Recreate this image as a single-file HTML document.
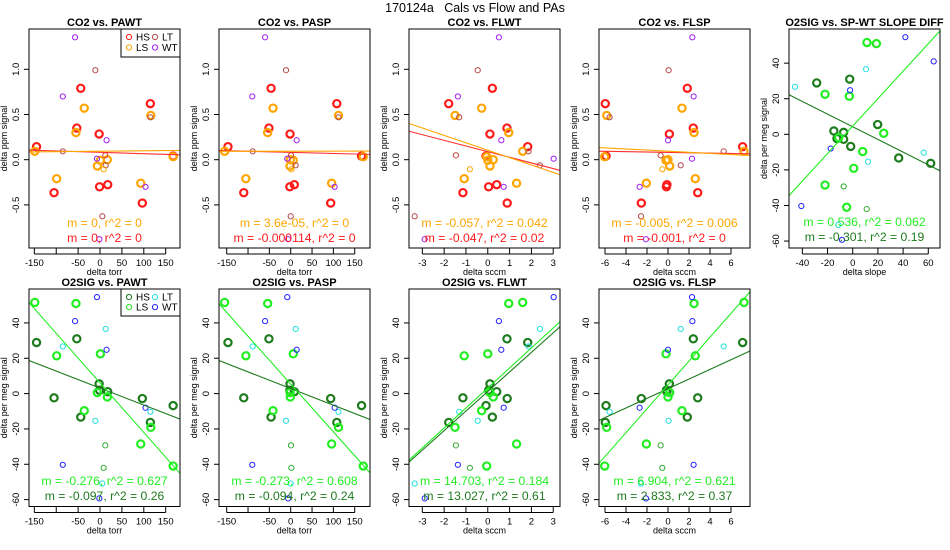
<!DOCTYPE html>
<html><head><meta charset="utf-8"><style>
html,body{margin:0;padding:0;background:#fff;}
svg{display:block;font-family:"Liberation Sans",Arial,sans-serif;}
</style></head><body>
<svg id="chart" width="950" height="550" viewBox="0 0 950 550">
<text x="475" y="12" text-anchor="middle" font-size="12.5" fill="#000" style="white-space:pre" xml:space="preserve">170124a   Cals vs Flow and PAs</text>
</svg>
<script>
const groups = ['HS','HS','HS','HS','HS','HS','HS','HS','HS','HS',
 'LS','LS','LS','LS','LS','LS','LS','LS','LS','LS',
 'LT','LT','LT3','LT','LT2','LT','LT',
 'WT','WT','WT','WT','WT','WT'];
const pawt = [-145,-105,-53,-44,-2,-1,17.6,96.7,115,167,
 -149,-99,-55,-36,-6,0.8,16.7,93,116,167,
 -85,-10.7,12,13,8.4,5.3,115,
 -57,-85,15,-7,104,-1.5];
const pasp = [-147,-110,-51,-46,-1.6,-2,8.5,93.7,108,166,
 -154.7,-105,-54,-41.5,-1.6,6,-1,96,112,170,
 -89,-11,0.7,11.7,1.5,0,112,
 -60,-90,14,-8,103,-6];
const flwt = [1.83,-1.14,0.88,0.21,0.1,0.04,0.41,0.89,-1.79,-0.08,
 1.6,-1.08,0.96,-0.28,0.1,0,0.25,1.32,-1.5,-0.05,
 1.87,-0.46,-1.46,2.39,-0.82,-3.35,-1.31,
 0.51,-1.37,0.62,3.02,0.73,-2.89];
const flsp = [7.11,2.83,2.41,1.84,0.13,-0.15,-0.1,-2.54,-5.97,-5.9,
 7.24,2.6,2.48,1.33,0.16,-0.19,0,-2.06,-5.84,-6.03,
 5.3,0.06,-0.7,1.21,-0.54,-2.57,-5.56,
 2.32,2.44,0,2.29,-2.7,-2.1];
const slopeDiff = [-28.6,-12.5,-2.4,36.5,19.8,-15,-7.2,-7.2,61.9,-1.6,
 11.3,-2.7,18.8,7.9,24.6,-22,-11.1,-22,0.8,-4.8,
 -45.8,12.1,-7.2,10.6,11.1,-11.4,56.3,
 64.3,-40.8,-2.1,41.8,-17.5,-8.5];
const co2 = [0.144,-0.365,0.35,0.79,0.284,-0.30,-0.276,-0.48,0.62,0.04,
 0.093,-0.21,0.30,0.57,-0.07,-0.007,0,-0.26,0.49,0.033,
 0.093,0.99,0.048,-0.062,-0.106,-0.626,0.469,
 1.354,0.70,0.215,0.011,-0.30,-0.88];
const o2sig = [28.9,-2.4,31,-13.3,5.5,1.9,1.1,-2.8,-16.3,-6.8,
 51.6,21.4,51,-9.7,0.6,22.5,-1.9,-28.5,-19.1,-41,
 26.7,-15.4,-29.3,36.6,-42,-50.9,-10.3,
 41,-40.3,24.8,54.6,-8,-59.3];
const co2Ticks = [-0.5,0,0.5,1];
const co2TickLabels = ['-0.5','0.0','0.5','1.0'];
const o2Ticks = [-60,-40,-20,0,20,40];
const torrTicks = [-150,-100,-50,0,50,100,150];
const torrTickLabels = ['-150','','-50','0','50','100','150'];
const sccmWtTicks = [-3,-2,-1,0,1,2,3];
const sccmSpTicks = [-6,-4,-2,0,2,4,6];
const slopeTicks = [-40,-20,0,20,40,60];
const notesTop = [['m = 0, r^2 = 0','m = 0, r^2 = 0'],['m = 3.6e-05, r^2 = 0','m = -0.000114, r^2 = 0'],
 ['m = -0.057, r^2 = 0.042','m = -0.047, r^2 = 0.02'],['m = -0.005, r^2 = 0.006','m = -0.001, r^2 = 0']];
const notesBottom = [['m = -0.276, r^2 = 0.627','m = -0.097, r^2 = 0.26'],['m = -0.273, r^2 = 0.608','m = -0.094, r^2 = 0.24'],
 ['m = 14.703, r^2 = 0.184','m = 13.027, r^2 = 0.61'],['m = 6.904, r^2 = 0.621','m = 2.833, r^2 = 0.37']];
const noteSlope = ['m = 0.536, r^2 = 0.062','m = -0.301, r^2 = 0.19'];

const NS='http://www.w3.org/2000/svg';
const svg=document.getElementById('chart');
const topColors={HS:'#ff1a1a',LS:'#ffa500',LT:'#b5484a',LT2:'#ffa500',LT3:'#c8403a',WT:'#a020f0'};
const botColors={HS:'#1e7b1e',LS:'#22ee22',LT:'#22e0e0',LT2:'#33aa33',LT3:'#33aa33',WT:'#2222ff'};
const thick={HS:true,LS:true};
let clipId=0;
function mk(tag,attrs,parent){const e=document.createElementNS(NS,tag);for(const k in attrs)e.setAttribute(k,attrs[k]);(parent||svg).appendChild(e);return e;}
function fit(xs,ys,g){let n=0,sx=0,sy=0,sxx=0,sxy=0;for(let i=0;i<xs.length;i++){if(groups[i]!==g)continue;n++;sx+=xs[i];sy+=ys[i];sxx+=xs[i]*xs[i];sxy+=xs[i]*ys[i];}
 const b=(n*sxy-sx*sy)/(n*sxx-sx*sx);return {b:b,a:(sy-b*sx)/n};}

function panel(o){
 const L=o.left,R=o.left+151,T=o.top,B=o.top+o.h;
 const sx=v=>L+(v-o.xlim[0])/(o.xlim[1]-o.xlim[0])*(R-L);
 const sy=v=>B-(v-o.ylim[0])/(o.ylim[1]-o.ylim[0])*(B-T);
 const g=mk('g',{});
 
 
 const t=mk('text',{x:(L+R)/2,y:T-3,'text-anchor':'middle','font-size':'11','font-weight':'bold'},g);t.textContent=o.title;
 
 
 o.yticks.forEach((v,i)=>{const y=sy(v);
  const tk=mk('line',{x1:L-5,x2:L,y1:y,y2:y,stroke:'#000','stroke-width':1},g);
  
  
  const tl=mk('text',{x:L-10,y:y,'text-anchor':'middle','font-size':'9.5',transform:`rotate(-90 ${L-10} ${y})`},g);
  tl.textContent=o.ytickLabels?o.ytickLabels[i]:String(v);
  
  });
 mk('line',{x1:L,x2:L,y1:sy(o.yticks[0]),y2:sy(o.yticks[o.yticks.length-1]),stroke:'#000'},g);
 const yl=mk('text',{x:L-22,y:(T+B)/2,'text-anchor':'middle','font-size':'9',transform:`rotate(-90 ${L-22} ${(T+B)/2})`},g);yl.textContent=o.ylabel;
 
 
 o.xticks.forEach((v,i)=>{const x=sx(v);
  const tk=mk('line',{x1:x,x2:x,y1:B,y2:B+6,stroke:'#000'},g);
  
  
  const tl=mk('text',{x:x,y:B+18,'text-anchor':'middle','font-size':'9.5'},g);
  tl.textContent=o.xtickLabels?o.xtickLabels[i]:String(v);
  
  });
 mk('line',{x1:sx(o.xticks[0]),x2:sx(o.xticks[o.xticks.length-1]),y1:B+6,y2:B+6,stroke:'#000'},g);
 const xl=mk('text',{x:(L+R)/2,y:B+27,'text-anchor':'middle','font-size':'9'},g);xl.textContent=o.xlabel;
 
 
 clipId++;const cp=mk('clipPath',{id:'c'+clipId},g);mk('rect',{x:L,y:T,width:R-L,height:B-T},cp);
 const inner=mk('g',{'clip-path':`url(#c${clipId})`},g);
 const cols=o.colors;
 for(let i=0;i<o.xs.length;i++){const gr=groups[i];const th=!!thick[gr];
  const c=mk('circle',{cx:sx(o.xs[i]),cy:sy(o.ys[i]),r:th?3.6:2.6,fill:'none',stroke:cols[gr],'stroke-width':th?2.2:1},inner);
  
  }
 [['HS',o.lineColors[0]],['LS',o.lineColors[1]]].forEach(([gr,col])=>{const f=fit(o.xs,o.ys,gr);
  const ln=mk('line',{x1:sx(o.xlim[0]),y1:sy(f.a+f.b*o.xlim[0]),x2:sx(o.xlim[1]),y2:sy(f.a+f.b*o.xlim[1]),stroke:col,'stroke-width':1.1},inner);
  
  });
 o.notes.forEach((s,i)=>{const n=mk('text',{x:(L+R)/2,y:o.noteY[i],'text-anchor':'middle','font-size':'12.2',fill:o.noteColors[i]},g);n.textContent=s;
  
  });
 const box=mk('rect',{x:L,y:T,width:R-L,height:B-T,fill:'none',stroke:'#000','stroke-width':1},g);
 
 
 if(o.legend){const lg=mk('g',{},g);
  
  
  mk('rect',{x:R-59,y:T,width:59,height:o.legend.h,fill:'#fff',stroke:'#000'},lg);
  o.legend.items.forEach((it,k)=>{const cx=R-59+8+(k>1?26:0);const cy=T+8+(k%2)*10.5*(o.legend.h/28);
   mk('circle',{cx:cx,cy:cy,r:2.6,fill:'none',stroke:cols[it],'stroke-width':1},lg);
   const tx=mk('text',{x:cx+7,y:cy+3.5,'font-size':'10'},lg);tx.textContent=it;
   
   });}
}
const topY=[-0.977,1.446], o2Y=[-63.9,59.2];
const xls=[[-162.2,182.7],[-168,185.8],[-3.61,3.31],[-6.57,7.81]];
const xtk=[torrTicks,torrTicks,sccmWtTicks,sccmSpTicks];
const xtl=[torrTickLabels,torrTickLabels,null,null];
const xvals=[pawt,pasp,flwt,flsp];
const names=['PAWT','PASP','FLWT','FLSP'];
const xlab=['delta torr','delta torr','delta sccm','delta sccm'];
for(let k=0;k<4;k++){
 panel({name:'panel-co2-'+names[k].toLowerCase(),left:29+190*k,top:29,h:219,xlim:xls[k],ylim:topY,xs:xvals[k],ys:co2,
  xticks:xtk[k],xtickLabels:xtl[k],yticks:co2Ticks,ytickLabels:co2TickLabels,title:'CO2 vs. '+names[k],xlabel:xlab[k],ylabel:'delta ppm signal',
  colors:topColors,lineColors:['#ff3030','#ffa500'],notes:[notesTop[k][0],notesTop[k][1]],noteY:[227,242],noteColors:['#ffa500','#ff1a1a'],
  legend:k===0?{h:28,items:['HS','LS','LT','WT']}:null});
 panel({name:'panel-o2-'+names[k].toLowerCase(),left:29+190*k,top:289,h:217.5,xlim:xls[k],ylim:o2Y,xs:xvals[k],ys:o2sig,
  xticks:xtk[k],xtickLabels:xtl[k],yticks:o2Ticks,title:'O2SIG vs. '+names[k],xlabel:xlab[k],ylabel:'delta per meg signal',
  colors:botColors,lineColors:['#1e7b1e','#22ee22'],notes:[notesBottom[k][0],notesBottom[k][1]],noteY:[485,500],noteColors:['#22ee22','#1e7b1e'],
  legend:k===0?{h:27,items:['HS','LS','LT','WT']}:null});
}
panel({name:'panel-o2-slope-diff',left:789,top:29,h:219,xlim:[-50.6,69.3],ylim:o2Y,xs:slopeDiff,ys:o2sig,
 xticks:slopeTicks,yticks:o2Ticks,title:'O2SIG vs. SP-WT SLOPE DIFF',xlabel:'delta slope',ylabel:'delta per meg signal',
 colors:botColors,lineColors:['#1e7b1e','#22ee22'],notes:noteSlope,noteY:[226,241],noteColors:['#22ee22','#1e7b1e'],legend:null});
</script>
</body></html>
